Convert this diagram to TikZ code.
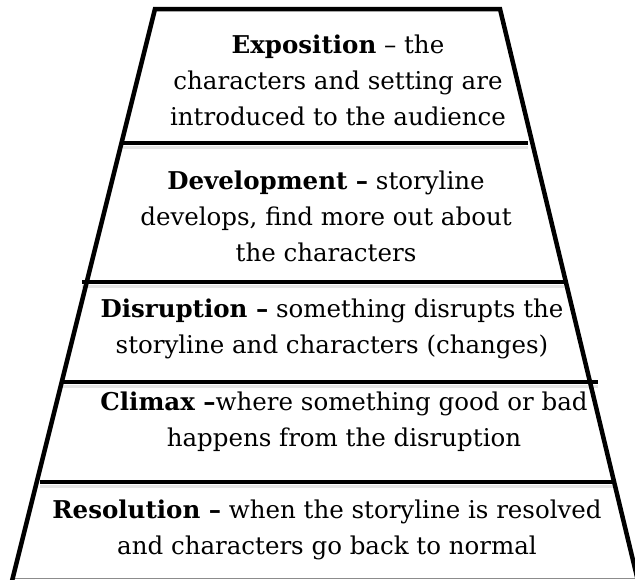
\documentclass[tikz,border=0pt]{standalone}
\usepackage{fontspec}
\setmainfont{DejaVu Serif}
\begin{document}
\begin{tikzpicture}[x=1pt,y=-1pt,
  edge/.style={line width=4.5pt, line join=miter},
  divider/.style={line width=4pt},
  shadowline/.style={line width=3pt, black!10},
  stagetext/.style={align=center, inner sep=0pt, font=\fontsize{24.5}{36}\selectfont}]
\useasboundingbox (0,0) rectangle (635,579);
\clip (0,0) rectangle (635,579);
% outline corners
\coordinate (bl) at (12,581);
\coordinate (tl) at (155,9);
\coordinate (tr) at (500,9);
\coordinate (br) at (638,581);
% divider ends
\coordinate (d1l) at (123,143);  \coordinate (d1r) at (528,143);
\coordinate (d2l) at (82,282);   \coordinate (d2r) at (566,282);
\coordinate (d3l) at (62,382);   \coordinate (d3r) at (598,382);
\coordinate (d4l) at (40,482);   \coordinate (d4r) at (616,482);
% shadows under dividers
\foreach \a/\b in {d1l/d1r,d2l/d2r,d3l/d3r,d4l/d4r}{
  \draw[shadowline] ([yshift=-4.5pt]\a) -- ([yshift=-4.5pt]\b);
}
% bottom edge (cut by the picture border)
\draw[black!45, line width=1.2pt] (12,578.5) -- (636,578.5);
% outline
\draw[edge] (bl) -- (tl) -- (tr) -- (br);
% dividers
\draw[divider] (d1l) -- (d1r);
\draw[divider] (d2l) -- (d2r);
\draw[divider] (d3l) -- (d3r);
\draw[divider] (d4l) -- (d4r);
% texts
\node[stagetext] (t1) at (338,80) {\textbf{Exposition} – the\\characters and setting are\\introduced to the audience};
\node[stagetext] (t2) at (326,216) {\textbf{Development –} storyline\\develops, find more out about\\the characters};
\node[stagetext] (t3) at (332,329) {\textbf{Disruption –} something disrupts the\\storyline and characters (changes)};
\node[stagetext] (t4) at (344,422) {\textbf{Climax –}where something good or bad\\happens from the disruption};
\node[stagetext] (t5) at (327,530) {\textbf{Resolution –} when the storyline is resolved\\and characters go back to normal};
\end{tikzpicture}
\end{document}
